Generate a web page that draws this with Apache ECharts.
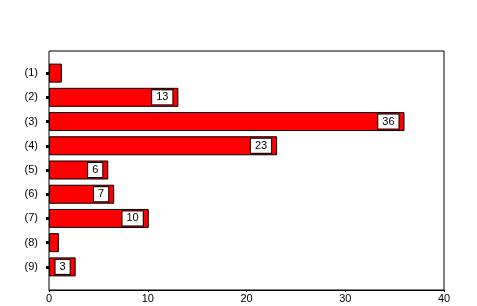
<!DOCTYPE html>
<html>
<head>
<meta charset="utf-8">
<script src="https://cdn.jsdelivr.net/npm/echarts@6/dist/echarts.min.js"></script>
<style>
html,body{margin:0;padding:0;background:#fff;}
#chart{width:477px;height:306px;}
</style>
</head>
<body>
<div id="chart"></div>
<script>
var categories = ['(1)', '(2)', '(3)', '(4)', '(5)', '(6)', '(7)', '(8)', '(9)'];
var values = [1.3, 13.1, 36.0, 23.1, 6.0, 6.6, 10.1, 1.0, 2.7];
var valueLabels = ['', '13', '36', '23', '6', '7', '10', '', '3'];
var xTicks = [0, 10, 20, 30, 40];

var seriesData = values.map(function (v, i) {
  return {value: v, label: {show: valueLabels[i] !== ''}};
});

var chart = echarts.init(document.getElementById('chart'), null, {renderer: 'canvas'});
var font = 'Liberation Sans, Arial, sans-serif';
chart.setOption({
  animation: false,
  backgroundColor: '#fff',
  grid: [
    {left: 49, top: 51, width: 395, height: 239, show: true, borderColor: '#000', borderWidth: 1, backgroundColor: 'transparent'},
    {left: 49, top: 61, width: 395, height: 218}
  ],
  xAxis: [
    {gridIndex: 0, type: 'value', min: xTicks[0], max: xTicks[xTicks.length - 1], interval: 10,
     axisLine: {show: true, lineStyle: {color: '#000', width: 1}},
     axisTick: {show: true, length: 2, lineStyle: {color: '#000'}},
     axisLabel: {color: '#000', fontFamily: font, fontSize: 11, margin: 3},
     splitLine: {show: false}},
    {gridIndex: 1, type: 'value', min: 0, max: 40, show: false}
  ],
  yAxis: [
    {gridIndex: 0, type: 'value', show: false},
    {gridIndex: 1, type: 'category', inverse: true, data: categories,
     axisLine: {show: false},
     axisTick: {show: true, alignWithLabel: true, length: 3, lineStyle: {color: '#000', width: 3}},
     axisLabel: {color: '#000', fontFamily: font, fontSize: 11, margin: 11}}
  ],
  series: [{
    type: 'bar',
    xAxisIndex: 1,
    yAxisIndex: 1,
    data: seriesData,
    barWidth: 19,
    itemStyle: {color: '#ff0000', borderColor: '#000', borderWidth: 1},
    label: {
      show: true,
      position: 'insideRight',
      distance: 6,
      formatter: function (p) { return valueLabels[p.dataIndex]; },
      color: '#000',
      fontFamily: font,
      fontSize: 11,
      backgroundColor: '#fff',
      borderColor: '#000',
      borderWidth: 1,
      padding: [2, 4, 1, 4]
    }
  }]
});
</script>
</body>
</html>
